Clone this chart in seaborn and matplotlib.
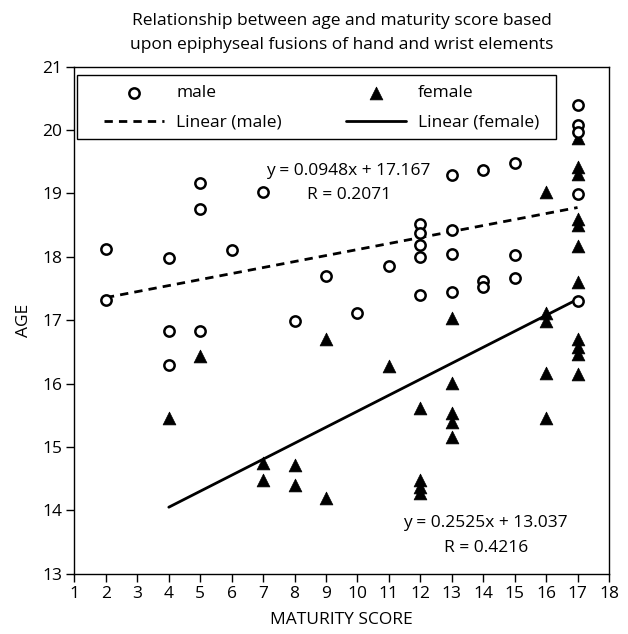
import matplotlib
matplotlib.use("Agg")
import matplotlib.pyplot as plt
from matplotlib.patches import Rectangle
import seaborn as sns
import numpy as np
import pandas as pd

# ---- data ----
male_x = [2, 2, 4, 4, 4, 5, 5, 5, 6, 7, 8, 9, 10, 11,
          12, 12, 12, 12, 12, 13, 13, 13, 13, 14, 14, 14, 15, 15, 15,
          17, 17, 17, 17, 17]
male_y = [18.12, 17.32, 17.98, 16.83, 16.30, 19.16, 18.75, 16.83, 18.11, 19.02,
          16.98, 17.70, 17.11, 17.86,
          18.52, 18.38, 18.19, 18.00, 17.40, 19.29, 18.43, 18.05, 17.44,
          19.37, 17.62, 17.52, 19.48, 18.03, 17.67,
          20.40, 20.08, 19.97, 18.99, 17.30]

female_x = [4, 5, 7, 7, 8, 8, 9, 9, 11, 12, 12, 12, 12,
            13, 13, 13, 13, 13, 16, 16, 16, 16, 16,
            17, 17, 17, 17, 17, 17, 17, 17, 17, 17, 17]
female_y = [15.45, 16.44, 14.75, 14.48, 14.72, 14.40, 16.70, 14.20, 16.27,
            15.62, 14.48, 14.37, 14.27,
            17.04, 16.01, 15.53, 15.40, 15.16,
            19.02, 17.11, 16.98, 16.17, 15.46,
            19.87, 19.42, 19.30, 18.60, 18.50, 18.17, 17.61, 16.70, 16.58, 16.46, 16.15]

male_slope, male_intercept, male_r = 0.0948, 17.167, 0.2071
female_slope, female_intercept, female_r = 0.2525, 13.037, 0.4216

x_ticks = list(range(1, 19))
y_ticks = list(range(13, 22))

title = ("Relationship between age and maturity score based\n"
         "upon epiphyseal fusions of hand and wrist elements")

# ---- plotting ----
sns.set_style("ticks")
plt.rcParams['font.family'] = ['Open Sans', 'DejaVu Sans']
for k in ["text.color", "axes.labelcolor", "xtick.color", "ytick.color", "axes.edgecolor"]:
    plt.rcParams[k] = "black"

FS = 12.5

fig = plt.figure(figsize=(6.28, 6.34), dpi=100)
ax = fig.add_axes([0.1186, 0.0954, 0.8511, 0.7992])

male_df = pd.DataFrame({"x": male_x, "y": male_y})
female_df = pd.DataFrame({"x": female_x, "y": female_y})

mlx = np.array([min(male_x), max(male_x)], dtype=float)
flx = np.array([min(female_x), max(female_x)], dtype=float)
male_line = pd.DataFrame({"x": mlx, "y": male_slope * mlx + male_intercept})
female_line = pd.DataFrame({"x": flx, "y": female_slope * flx + female_intercept})

sns.lineplot(data=male_line, x="x", y="y", ax=ax, color="black",
             linestyle=(0, (3, 2.2)), linewidth=2.0, zorder=2, label="Linear (male)")
sns.lineplot(data=female_line, x="x", y="y", ax=ax, color="black",
             linewidth=2.0, zorder=2, label="Linear (female)")
sns.scatterplot(data=female_df, x="x", y="y", ax=ax, marker="^", s=85,
                color="black", edgecolor="black", linewidth=0.5, zorder=3, label="female")
sns.scatterplot(data=male_df, x="x", y="y", ax=ax, marker="o", s=55,
                facecolor="white", edgecolor="black", linewidth=1.8, zorder=4, label="male")

ax.set_xlim(1, 18)
ax.set_ylim(13, 21)
ax.set_xticks(x_ticks)
ax.set_yticks(y_ticks)
ax.tick_params(direction="out", length=6, width=1, color="black",
               labelsize=FS, pad=3, labelcolor="black")
for sp in ax.spines.values():
    sp.set_visible(True)
    sp.set_color("black")
    sp.set_linewidth(1.0)

ax.set_xlabel("MATURITY SCORE", fontsize=FS, labelpad=7, color="black")
ax.set_ylabel("AGE", fontsize=FS, labelpad=7, color="black")
ax.set_title(title, fontsize=FS, pad=13, linespacing=1.65, color="black")

ax.text(9.72, 19.35, "y = 0.0948x + 17.167", ha="center", va="center", fontsize=FS)
ax.text(9.72, 18.98, "R = 0.2071", ha="center", va="center", fontsize=FS)
ax.text(14.08, 13.79, "y = 0.2525x + 13.037", ha="center", va="center", fontsize=FS)
ax.text(14.08, 13.41, "R = 0.4216", ha="center", va="center", fontsize=FS)

# legend frame drawn separately
ax.add_patch(Rectangle((0.005, 0.8575), 0.8956, 0.1265, transform=ax.transAxes,
                       facecolor="white", edgecolor="black", linewidth=1.0,
                       zorder=5, clip_on=False))

handles, labels = ax.get_legend_handles_labels()
hmap = dict(zip(labels, handles))
order = ["male", "Linear (male)", "female", "Linear (female)"]
leg = ax.legend([hmap[k] for k in order], order, ncol=2, loc="center left",
                bbox_to_anchor=(0.0558, 0.919),
                fontsize=FS, frameon=False, borderpad=0, borderaxespad=0,
                handlelength=3.45, handletextpad=0.7, labelspacing=0.78,
                columnspacing=3.7)
leg.set_zorder(6)

fig.savefig("out.png", dpi=100)
